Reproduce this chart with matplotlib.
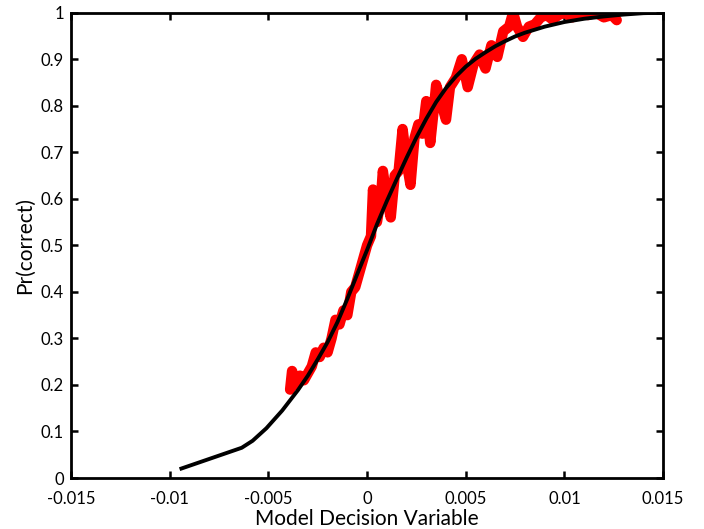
import numpy as np
import matplotlib
matplotlib.use('Agg')
import matplotlib.pyplot as plt

plt.rcParams.update({
    'font.family': ['Lato', 'DejaVu Sans'],
    'font.size': 12,
})

# Empirical (noisy) proportion correct vs decision variable
red_x = [-0.0039, -0.0038, -0.0036, -0.0034, -0.0032, -0.0030, -0.0028, -0.0026,
         -0.0024, -0.0022, -0.0020, -0.0018, -0.0016, -0.0014, -0.0012, -0.0010,
         -0.0008, -0.0006, -0.0004, -0.0002, 0.0000, 0.0002, 0.0003, 0.0005,
         0.0007, 0.0008, 0.0010, 0.0012, 0.0014, 0.0016, 0.0018, 0.0020,
         0.0022, 0.0024, 0.0026, 0.0028, 0.0030, 0.0032, 0.0034, 0.0035,
         0.0038, 0.0040, 0.0042, 0.0045, 0.0048, 0.0051, 0.0054, 0.0057,
         0.0060, 0.0063, 0.0066, 0.0069, 0.0072, 0.0074, 0.0076, 0.0079,
         0.0082, 0.0085, 0.0088, 0.0091, 0.0094, 0.0097, 0.0100, 0.0104,
         0.0108, 0.0112, 0.0116, 0.0120, 0.0124, 0.01265]
red_y = [0.19, 0.23, 0.20, 0.22, 0.21, 0.225, 0.24, 0.27,
         0.26, 0.28, 0.27, 0.30, 0.34, 0.33, 0.36, 0.35,
         0.40, 0.41, 0.44, 0.47, 0.50, 0.52, 0.62, 0.55,
         0.60, 0.66, 0.60, 0.56, 0.65, 0.66, 0.75, 0.68,
         0.63, 0.73, 0.76, 0.74, 0.81, 0.72, 0.80, 0.845,
         0.80, 0.77, 0.84, 0.86, 0.90, 0.84, 0.89, 0.91,
         0.88, 0.93, 0.905, 0.96, 0.97, 1.00, 0.97, 0.948,
         0.97, 0.975, 0.99, 0.995, 0.985, 0.995, 1.00, 0.99,
         1.00, 0.995, 1.00, 0.99, 0.995, 0.984]

# Fitted psychometric curve
fit_x = [-0.0095, -0.00635, -0.0058, -0.0051, -0.0043, -0.0035, -0.0030, -0.0025,
         -0.0020, -0.0015, -0.0010, -0.0005, 0.0000, 0.0005, 0.0010, 0.0015,
         0.0020, 0.0025, 0.0030, 0.0035, 0.0040, 0.0045, 0.0050, 0.0055,
         0.0060, 0.0065, 0.0070, 0.0075, 0.0080, 0.0090, 0.0100, 0.0110,
         0.0120, 0.0130, 0.0140, 0.0150]
fit_y = [0.019, 0.065, 0.080, 0.107, 0.145, 0.189, 0.22, 0.255,
         0.292, 0.335, 0.385, 0.438, 0.49, 0.545, 0.595, 0.642,
         0.688, 0.732, 0.772, 0.808, 0.838, 0.863, 0.884, 0.901,
         0.915, 0.928, 0.939, 0.949, 0.957, 0.970, 0.980, 0.987,
         0.992, 0.996, 0.999, 1.0]

xticks = [-0.015, -0.01, -0.005, 0, 0.005, 0.01, 0.015]
xticklabels = ['-0.015', '-0.01', '-0.005', '0', '0.005', '0.01', '0.015']
yticks = [0, 0.1, 0.2, 0.3, 0.4, 0.5, 0.6, 0.7, 0.8, 0.9, 1]
yticklabels = ['0', '0.1', '0.2', '0.3', '0.4', '0.5', '0.6', '0.7', '0.8', '0.9', '1']

fig = plt.figure(figsize=(7.04, 5.29), dpi=100)
ax = fig.add_axes([0.1009, 0.0964, 0.841, 0.8796])

ax.plot(red_x, red_y, color='#ff0000', lw=7.5, solid_capstyle='round',
        solid_joinstyle='round')
ax.plot(fit_x, fit_y, color='black', lw=2.8, solid_capstyle='butt')

ax.set_xlim(-0.015, 0.015)
ax.set_ylim(0, 1)
ax.set_xticks(xticks)
ax.set_xticklabels(xticklabels, fontsize=12)
ax.set_yticks(yticks)
ax.set_yticklabels(yticklabels, fontsize=12)
ax.tick_params(direction='in', length=5, width=1.8, top=True, right=True)
ax.tick_params(axis='x', pad=9)
ax.tick_params(axis='y', pad=5)
for sp in ax.spines.values():
    sp.set_linewidth(2)

ax.set_xlabel('Model Decision Variable', fontsize=15, labelpad=2)
ax.set_ylabel('Pr(correct)', fontsize=15, labelpad=4)

plt.savefig('out.png', dpi=100)
